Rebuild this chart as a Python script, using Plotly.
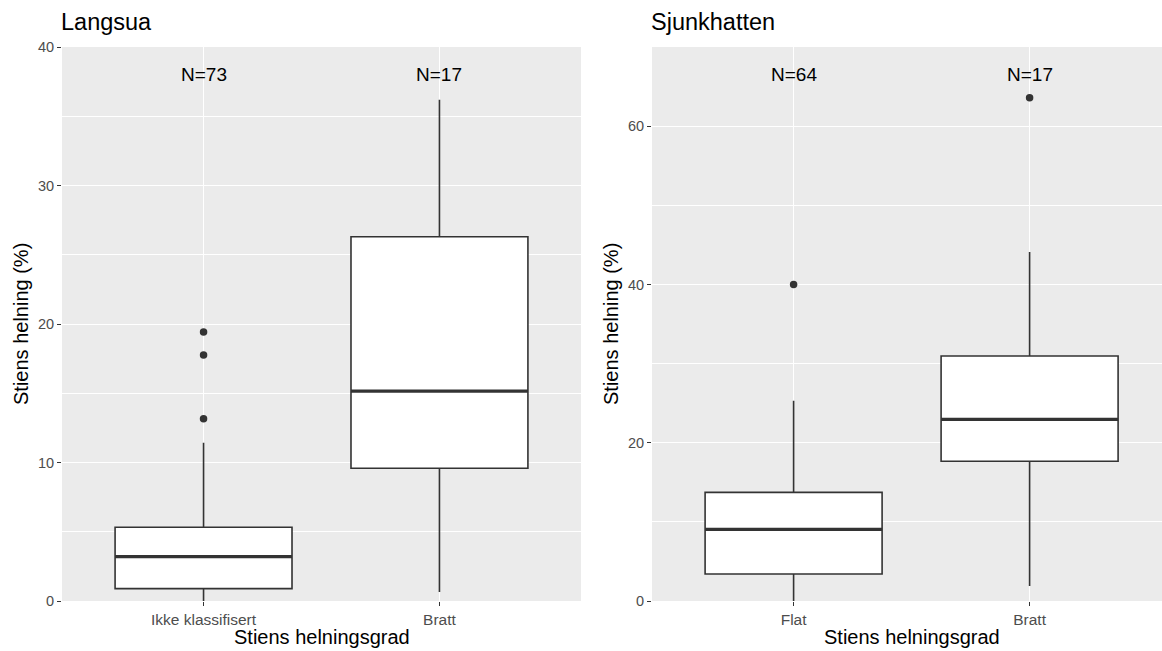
import plotly.graph_objects as go

# Langsua: slope (%) by slope class
lang_cats = ["Ikke klassifisert", "Bratt"]
lang_n = [73, 17]
lang_q1 = [0.89, 9.58]
lang_med = [3.20, 15.16]
lang_q3 = [5.32, 26.30]
lang_lo = [0.0, 0.65]
lang_hi = [11.43, 36.2]
lang_outliers = [[13.16, 17.76, 19.42], []]

# Sjunkhatten: slope (%) by slope class
sjunk_cats = ["Flat", "Bratt"]
sjunk_n = [64, 17]
sjunk_q1 = [3.41, 17.65]
sjunk_med = [9.05, 22.95]
sjunk_q3 = [13.73, 30.95]
sjunk_lo = [0.0, 1.9]
sjunk_hi = [25.3, 44.1]
sjunk_outliers = [[40.0], [63.6]]

W, H = 1162, 651
FONT = "Arial, Liberation Sans, sans-serif"
DARK = "#333333"
TICK_COL = "#4D4D4D"
BOX_W = 0.75


def px_x(p):
    return p / W


def px_y(p):
    return 1 - p / H


panels = [
    dict(title="Langsua", cats=lang_cats, n=lang_n, q1=lang_q1, med=lang_med,
         q3=lang_q3, lo=lang_lo, hi=lang_hi, out=lang_outliers,
         xd=(62, 581), xr=(0.4, 2.6), yr=(0, 40), dt=10, label_y=38.0,
         xa="x", ya="y"),
    dict(title="Sjunkhatten", cats=sjunk_cats, n=sjunk_n, q1=sjunk_q1, med=sjunk_med,
         q3=sjunk_q3, lo=sjunk_lo, hi=sjunk_hi, out=sjunk_outliers,
         xd=(652, 1162), xr=(0.4, 0.4 + 510 / 236), yr=(0, 70), dt=20, label_y=66.5,
         xa="x2", ya="y2"),
]

fig = go.Figure()
annotations = []
layout_axes = {}
y_top, y_bot = 47, 601

for k, p in enumerate(panels):
    pos = [1, 2]
    for i, c in enumerate(p["cats"]):
        fig.add_trace(go.Box(
            x=[pos[i]], q1=[p["q1"][i]], median=[p["med"][i]], q3=[p["q3"][i]],
            lowerfence=[p["lo"][i]], upperfence=[p["hi"][i]],
            width=BOX_W, whiskerwidth=0, fillcolor="white",
            line=dict(color=DARK, width=1.6), boxpoints=False,
            xaxis=p["xa"], yaxis=p["ya"], showlegend=False, hoverinfo="skip",
        ))
        # thicker median bar
        fig.add_trace(go.Scatter(
            x=[pos[i] - BOX_W / 2, pos[i] + BOX_W / 2], y=[p["med"][i]] * 2,
            mode="lines", line=dict(color=DARK, width=3.2),
            xaxis=p["xa"], yaxis=p["ya"], showlegend=False, hoverinfo="skip",
        ))
        if p["out"][i]:
            fig.add_trace(go.Scatter(
                x=[pos[i]] * len(p["out"][i]), y=p["out"][i], mode="markers",
                marker=dict(color=DARK, size=7.5),
                xaxis=p["xa"], yaxis=p["ya"], showlegend=False, hoverinfo="skip",
            ))
        annotations.append(dict(
            x=pos[i], y=p["label_y"], xref=p["xa"], yref=p["ya"],
            text=f"N={p['n'][i]}", showarrow=False,
            font=dict(family=FONT, size=19, color="black"),
        ))

    suffix = "" if k == 0 else "2"
    layout_axes["xaxis" + suffix] = dict(
        domain=[px_x(p["xd"][0]), px_x(p["xd"][1])], range=list(p["xr"]),
        tickmode="array", tickvals=[1, 2], ticktext=p["cats"],
        showgrid=True, gridcolor="white", gridwidth=1.4,
        ticks="outside", ticklen=4, tickwidth=1.1, tickcolor=DARK,
        tickfont=dict(family=FONT, size=15.5, color=TICK_COL),
        zeroline=False, showline=False, anchor=p["ya"], fixedrange=True,
        automargin=False,
    )
    layout_axes["yaxis" + suffix] = dict(
        domain=[px_y(y_bot), px_y(y_top)], range=list(p["yr"]),
        tickmode="linear", tick0=0, dtick=p["dt"],
        showgrid=True, gridcolor="white", gridwidth=1.4,
        minor=dict(showgrid=True, gridcolor="white", gridwidth=0.7,
                   dtick=p["dt"] / 2, tick0=0, ticks=""),
        ticks="outside", ticklen=4, tickwidth=1.1, tickcolor=DARK,
        tickfont=dict(family=FONT, size=14.5, color=TICK_COL),
        zeroline=False, showline=False, anchor=p["xa"], fixedrange=True,
        automargin=False,
    )

    x0 = p["xd"][0]
    # panel title
    annotations.append(dict(
        x=px_x(x0 - 3), y=px_y(22), xref="paper", yref="paper", text=p["title"],
        showarrow=False, xanchor="left", yanchor="middle",
        font=dict(family=FONT, size=23.5, color="black"),
    ))
    # axis titles, centred on the full panel width
    full_right = x0 + 519
    annotations.append(dict(
        x=px_x((x0 + full_right) / 2), y=px_y(637), xref="paper", yref="paper",
        text="Stiens helningsgrad", showarrow=False, xanchor="center", yanchor="middle",
        font=dict(family=FONT, size=20, color="black"),
    ))
    annotations.append(dict(
        x=px_x(21 if k == 0 else 611), y=px_y((y_top + y_bot) / 2),
        xref="paper", yref="paper", text="Stiens helning (%)", showarrow=False,
        textangle=-90, xanchor="center", yanchor="middle",
        font=dict(family=FONT, size=20, color="black"),
    ))

fig.update_layout(
    width=W, height=H, margin=dict(l=0, r=0, t=0, b=0),
    paper_bgcolor="white", plot_bgcolor="#EBEBEB",
    annotations=annotations, showlegend=False,
    **layout_axes,
)

fig.write_html("out.html")
